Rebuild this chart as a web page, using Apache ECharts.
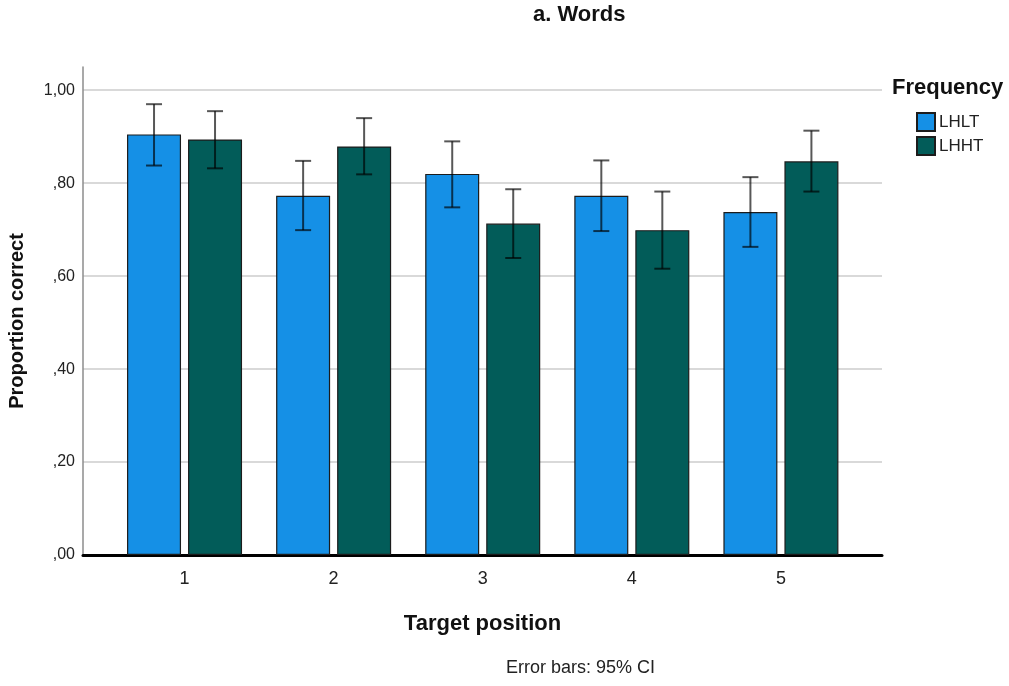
<!DOCTYPE html>
<html>
<head>
<meta charset="utf-8">
<title>a. Words</title>
<script src="https://cdn.jsdelivr.net/npm/echarts@6/dist/echarts.min.js"></script>
<style>
  html, body { margin: 0; padding: 0; background: #fff; }
  #chart { width: 1009px; height: 686px; }
</style>
</head>
<body>
<div id="chart"></div>
<script>
// Target positions on the x axis
const categories = [1, 2, 3, 4, 5];
// Mean proportion correct per frequency condition
const lhlt = [0.905, 0.773, 0.820, 0.773, 0.738];
const lhht = [0.894, 0.879, 0.713, 0.699, 0.847];
// 95% confidence interval bounds
const lhltLow = [0.838, 0.699, 0.748, 0.697, 0.663];
const lhltHigh = [0.970, 0.848, 0.890, 0.849, 0.813];
const lhhtLow = [0.832, 0.819, 0.639, 0.616, 0.782];
const lhhtHigh = [0.955, 0.940, 0.787, 0.782, 0.913];
// Value-axis tick positions
const yTicks = [0, 0.2, 0.4, 0.6, 0.8, 1.0];

const FONT = '"Liberation Sans", Arial, sans-serif';
const BAR_W = 54;
const BAR_GAP_PX = 7;
const HALF_STEP = (BAR_W + BAR_GAP_PX) / 2;

const fmtTick = v => v.toFixed(2).replace('.', ',').replace(/^0/, '');

function errorSeries(low, high, dir) {
  return {
    type: 'custom',
    z: 5,
    silent: true,
    data: categories.map((c, i) => [c, low[i], high[i]]),
    encode: { x: 0, y: [1, 2] },
    renderItem: function (params, api) {
      const xc = api.coord([api.value(0), 0])[0] + dir * HALF_STEP;
      const yLo = api.coord([api.value(0), api.value(1)])[1];
      const yHi = api.coord([api.value(0), api.value(2)])[1];
      const cap = 8;
      const style = { stroke: 'rgba(0,0,0,0.66)', lineWidth: 2 };
      return {
        type: 'group',
        children: [
          { type: 'line', shape: { x1: xc, y1: yLo, x2: xc, y2: yHi }, style },
          { type: 'line', shape: { x1: xc - cap, y1: yHi, x2: xc + cap, y2: yHi }, style },
          { type: 'line', shape: { x1: xc - cap, y1: yLo, x2: xc + cap, y2: yLo }, style }
        ]
      };
    }
  };
}

const chart = echarts.init(document.getElementById('chart'), null, { renderer: 'canvas' });

chart.setOption({
  animation: false,
  backgroundColor: '#ffffff',
  textStyle: { fontFamily: FONT },
  grid: { left: 83, right: 127, top: 67, bottom: 131 },
  graphic: [
    {
      type: 'text', left: 533, top: 4,
      style: { text: 'a. Words', fontFamily: FONT, fontSize: 22, fontWeight: 'bold', fill: '#111' }
    },
    {
      type: 'text', x: 17, y: 321, rotation: Math.PI / 2,
      style: {
        text: 'Proportion correct', fontFamily: FONT, fontSize: 20, fontWeight: 'bold', fill: '#111',
        align: 'center', verticalAlign: 'middle'
      }
    },
    {
      type: 'text', left: 892, top: 77,
      style: { text: 'Frequency', fontFamily: FONT, fontSize: 22, fontWeight: 'bold', fill: '#111' }
    },
    {
      type: 'text', left: 506, top: 659,
      style: { text: 'Error bars: 95% CI', fontFamily: FONT, fontSize: 18, fill: '#222' }
    }
  ],
  legend: {
    data: ['LHLT', 'LHHT'],
    orient: 'vertical',
    left: 916,
    top: 112,
    padding: 0,
    itemWidth: 18,
    itemHeight: 18,
    itemGap: 4,
    icon: 'rect',
    textStyle: { fontFamily: FONT, fontSize: 17, color: '#222', padding: [0, 0, 0, -1] }
  },
  xAxis: {
    type: 'value',
    min: 0.319,
    max: 5.678,
    name: 'Target position',
    nameLocation: 'middle',
    nameGap: 58,
    nameTextStyle: { fontFamily: FONT, fontSize: 22, fontWeight: 'bold', color: '#111' },
    axisLine: { show: true, onZero: false, lineStyle: { color: '#000', width: 3 } },
    axisTick: { show: false },
    splitLine: { show: false },
    axisLabel: {
      customValues: categories,
      formatter: v => String(v),
      fontFamily: FONT, fontSize: 18, color: '#222', margin: 15
    }
  },
  yAxis: {
    type: 'value',
    min: 0,
    max: 1.05,
    interval: 0.2,
    axisLine: { show: true, onZero: false, lineStyle: { color: '#8c8c8c', width: 1.5 } },
    axisTick: { show: false },
    axisLabel: {
      customValues: yTicks,
      formatter: fmtTick,
      fontFamily: FONT, fontSize: 16, color: '#222', margin: 8
    },
    splitLine: {
      show: true,
      lineStyle: {
        color: ['#cccccc', '#cccccc', '#cccccc', '#cccccc', '#cccccc', '#cccccc', 'rgba(0,0,0,0)'],
        width: 1.5
      }
    }
  },
  series: [
    {
      name: 'LHLT',
      type: 'bar',
      barWidth: BAR_W,
      barGap: (BAR_GAP_PX / BAR_W * 100).toFixed(1) + '%',
      data: categories.map((c, i) => [c, lhlt[i]]),
      itemStyle: { color: '#1590e6', borderColor: '#1c1c1c', borderWidth: 1.2 }
    },
    {
      name: 'LHHT',
      type: 'bar',
      barWidth: BAR_W,
      barGap: (BAR_GAP_PX / BAR_W * 100).toFixed(1) + '%',
      data: categories.map((c, i) => [c, lhht[i]]),
      itemStyle: { color: '#025c59', borderColor: '#1c1c1c', borderWidth: 1.2 }
    },
    errorSeries(lhltLow, lhltHigh, -1),
    errorSeries(lhhtLow, lhhtHigh, 1)
  ]
});
</script>
</body>
</html>
